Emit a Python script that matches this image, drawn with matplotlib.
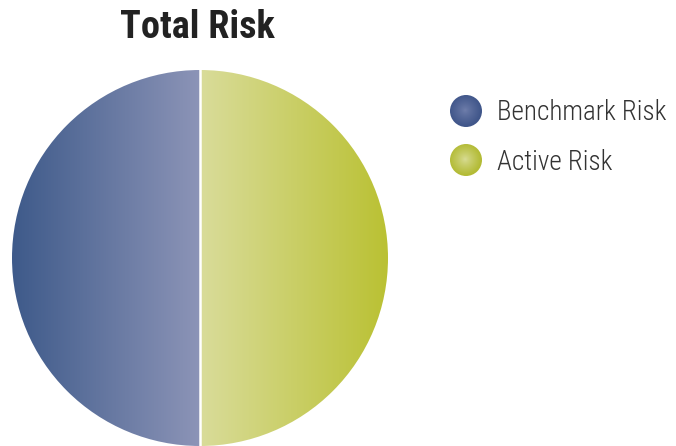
import matplotlib.pyplot as plt
import numpy as np
from matplotlib.colors import LinearSegmentedColormap
from matplotlib.patches import Circle

labels = ["Benchmark Risk", "Active Risk"]
shares = [50, 50]
# gradient stops: (outer edge colour, inner colour)
pie_colors = [("#3e5a8a", "#8c94b7"), ("#bac133", "#d9dc9a")]
dot_colors = [("#40568a", "#6f7eab"), ("#b3bb35", "#d8dc94")]
FONT = ["Roboto Condensed", "DejaVu Sans"]

W, H = 676, 446
fig = plt.figure(figsize=(W / 100, H / 100), dpi=100)
ax = fig.add_axes([0, 0, 1, 1])

cx, cy, r = 200, H - 258, 188
wedges, _ = ax.pie(shares, startangle=90, counterclock=True, center=(cx, cy),
                   radius=r, colors=["none", "none"],
                   wedgeprops=dict(edgecolor="none"))

# horizontal gradient inside each wedge
grad = np.linspace(0, 1, 256).reshape(1, -1)
for w, (outer, inner) in zip(wedges, pie_colors):
    theta = (w.theta1 + w.theta2) / 2
    if np.cos(np.radians(theta)) < 0:
        cmap = LinearSegmentedColormap.from_list("g", [outer, inner])
        ext = (cx - r, cx, cy - r, cy + r)
    else:
        cmap = LinearSegmentedColormap.from_list("g", [inner, outer])
        ext = (cx, cx + r, cy - r, cy + r)
    im = ax.imshow(grad, cmap=cmap, extent=ext, aspect="auto", zorder=1)
    im.set_clip_path(w)

ax.plot([cx, cx], [cy - r, cy + r], color="white", lw=1.8, zorder=3)

# legend dots with soft radial shading
dot_r = 16
yy, xx = np.mgrid[-1:1:101j, -1:1:101j]
dist = np.clip(np.hypot(xx + 0.05, yy - 0.05), 0, 1) ** 0.8
for i, (lab, (outer, inner)) in enumerate(zip(labels, dot_colors)):
    dx, dy = 466, H - (111 + 49 * i)
    cmap = LinearSegmentedColormap.from_list("d", [inner, outer])
    im = ax.imshow(dist, cmap=cmap, extent=(dx - dot_r, dx + dot_r, dy - dot_r, dy + dot_r),
                   aspect="auto", zorder=2, origin="lower")
    im.set_clip_path(Circle((dx, dy), dot_r, transform=ax.transData))
    ax.text(497, dy - 2, lab, fontsize=19.5, color="#333333", va="center", ha="left",
            family=FONT, fontweight="light")

ax.text(197, H - 27, "Total Risk", fontsize=27.5, fontweight="bold", color="#222222",
        ha="center", va="center", family=FONT)

ax.set_xlim(0, W)
ax.set_ylim(0, H)
ax.set_aspect("auto")
ax.axis("off")

fig.savefig("out.png", dpi=100)
